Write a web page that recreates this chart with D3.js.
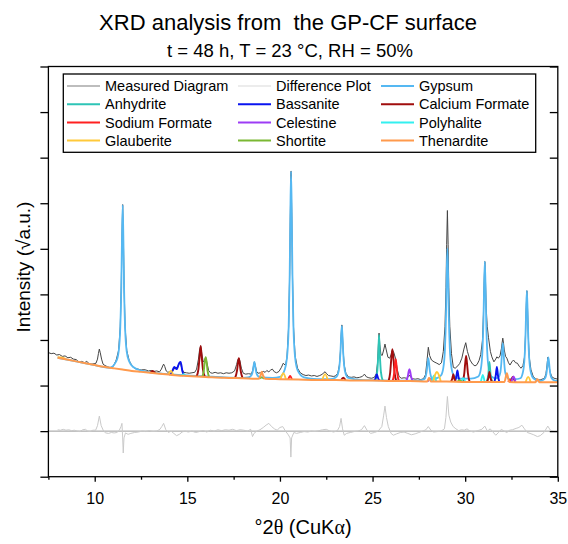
<!DOCTYPE html>
<html>
<head>
<meta charset="utf-8">
<script src="https://cdnjs.cloudflare.com/ajax/libs/d3/7.8.5/d3.min.js"></script>
<style>
  body { margin: 0; background: #fff; }
  svg text { font-family: "Liberation Sans", Arial, sans-serif; fill: #000; }
</style>
</head>
<body>
<div class="svg_container"></div>
<script>
const WIDTH = 568;
const HEIGHT = 544;
const LEFT = 48.4, RIGHT = 557.8, TOP = 66.5, BOTTOM = 476.7;

// ---- data (x = °2θ, y = sqrt intensity, arbitrary units) ----
var xMajorTicks = [10, 15, 20, 25, 30, 35];
var xMinorTicks = [7.5, 12.5, 17.5, 22.5, 27.5, 32.5];
var yTicks = [0, 1, 2, 3, 4, 5, 6, 7, 8, 9];
var diffZero = 1;

var measured = [[7.52,2.72],[7.65,2.70],[7.8,2.71],[7.95,2.67],[8.1,2.68],[8.25,2.64],[8.4,2.65],[8.55,2.61],[8.7,2.62],[8.85,2.58],
  [9.0,2.57],[9.17,2.51],[9.3,2.53],[9.45,2.50],[9.57,2.53],[9.7,2.48],[9.85,2.47],[9.97,2.48],[10.07,2.49],[10.15,2.58],
  [10.2,2.70],[10.25,2.80],[10.3,2.72],[10.37,2.58],[10.45,2.47],[10.55,2.44],[10.7,2.41],[10.85,2.39],[11.0,2.42],[11.16,2.56],
  [11.29,2.77],[11.38,3.29],[11.435,4.19],[11.47,5.19],[11.51,5.97],[11.55,5.19],[11.585,4.19],[11.64,3.29],[11.73,2.77],[11.86,2.55],
  [12.03,2.42],[12.2,2.37],[12.35,2.36],[12.5,2.34],[12.65,2.35],[12.77,2.34],[12.9,2.32],[13.05,2.33],[13.2,2.31],[13.35,2.32],
  [13.5,2.30],[13.6,2.36],[13.67,2.43],[13.72,2.47],[13.78,2.42],[13.86,2.32],[13.95,2.29],[14.1,2.31],[14.21,2.32],[14.34,2.39],
  [14.45,2.40],[14.52,2.44],[14.61,2.51],[14.7,2.38],[14.8,2.29],[14.95,2.28],[15.1,2.27],[15.25,2.28],[15.4,2.29],[15.5,2.36],
  [15.6,2.58],[15.66,2.78],[15.72,2.87],[15.78,2.70],[15.86,2.52],[15.92,2.55],[15.99,2.62],[16.06,2.50],[16.15,2.33],[16.25,2.28],
  [16.35,2.27],[16.5,2.29],[16.65,2.27],[16.8,2.28],[16.95,2.26],[17.1,2.28],[17.25,2.27],[17.4,2.28],[17.55,2.32],[17.66,2.46],
  [17.72,2.56],[17.78,2.60],[17.84,2.54],[17.92,2.38],[18.02,2.27],[18.15,2.25],[18.3,2.26],[18.45,2.25],[18.53,2.33],[18.58,2.45],
  [18.62,2.52],[18.67,2.44],[18.74,2.31],[18.82,2.27],[18.95,2.28],[19.1,2.31],[19.2,2.29],[19.29,2.33],[19.4,2.30],[19.5,2.34],
  [19.59,2.36],[19.7,2.30],[19.82,2.28],[19.95,2.31],[20.08,2.40],[20.18,2.49],[20.3,2.44],[20.38,2.62],[20.47,3.30],[20.525,4.45],
  [20.56,5.72],[20.60,6.70],[20.64,5.72],[20.675,4.45],[20.73,3.30],[20.82,2.65],[20.95,2.38],[21.1,2.28],[21.25,2.24],[21.4,2.22],
  [21.55,2.23],[21.7,2.21],[21.85,2.22],[22.0,2.20],[22.15,2.22],[22.3,2.25],[22.38,2.29],[22.44,2.30],[22.52,2.26],[22.62,2.22],
  [22.75,2.21],[22.88,2.20],[23.0,2.21],[23.12,2.27],[23.21,2.45],[23.265,2.75],[23.30,3.07],[23.34,3.33],[23.38,3.07],[23.415,2.75],
  [23.47,2.45],[23.56,2.27],[23.7,2.19],[23.85,2.18],[24.0,2.19],[24.15,2.17],[24.3,2.18],[24.45,2.20],[24.56,2.25],[24.67,2.19],
  [24.8,2.17],[24.95,2.16],[25.1,2.18],[25.2,2.26],[25.27,2.50],[25.31,2.85],[25.35,3.15],[25.39,2.90],[25.45,2.68],[25.52,2.66],
  [25.6,2.78],[25.67,2.91],[25.74,2.78],[25.83,2.62],[25.93,2.60],[26.0,2.68],[26.07,2.78],[26.15,2.72],[26.25,2.58],[26.33,2.36],
  [26.43,2.20],[26.55,2.16],[26.7,2.17],[26.85,2.16],[26.92,2.19],[26.99,2.23],[27.06,2.18],[27.15,2.15],[27.3,2.14],[27.45,2.15],
  [27.6,2.13],[27.75,2.15],[27.86,2.24],[27.94,2.55],[28.01,2.84],[28.08,2.66],[28.18,2.56],[28.32,2.52],[28.47,2.49],[28.6,2.46],
  [28.72,2.50],[28.82,2.75],[28.91,3.30],[28.965,4.15],[29.0,5.09],[29.04,5.84],[29.08,5.09],[29.115,4.15],[29.17,3.30],[29.26,2.70],
  [29.36,2.40],[29.46,2.38],[29.55,2.41],[29.7,2.48],[29.82,2.60],[29.93,2.80],[30.03,2.94],[30.12,2.75],[30.26,2.56],[30.4,2.47],
  [30.53,2.43],[30.64,2.46],[30.75,2.55],[30.84,2.68],[30.93,2.98],[30.985,3.55],[31.02,4.20],[31.06,4.72],[31.10,4.25],[31.135,3.70],
  [31.19,3.30],[31.26,3.05],[31.36,2.75],[31.44,2.63],[31.55,2.52],[31.65,2.58],[31.71,2.63],[31.79,2.60],[31.88,2.65],[31.96,2.82],
  [31.99,2.93],[32.03,3.04],[32.07,2.93],[32.11,2.78],[32.18,2.64],[32.25,2.60],[32.34,2.50],[32.42,2.45],[32.52,2.52],[32.61,2.56],
  [32.72,2.50],[32.82,2.49],[32.92,2.42],[33.02,2.38],[33.12,2.44],[33.2,2.62],[33.255,3.1],[33.29,3.65],[33.33,4.08],[33.37,3.65],
  [33.405,3.1],[33.46,2.62],[33.55,2.35],[33.68,2.19],[33.8,2.15],[33.95,2.13],[34.04,2.12],[34.15,2.14],[34.28,2.16],[34.36,2.26],
  [34.42,2.45],[34.46,2.62],[34.51,2.48],[34.58,2.30],[34.68,2.19],[34.8,2.16],[34.9,2.15],[35.0,2.14]];

var difference = [[8.0,1.03],[8.15,1.02],[8.3,1.04],[8.45,1.02],[8.6,1.03],[8.75,1.01],[8.9,1.02],[9.05,1.00],[9.2,0.99],[9.35,1.03],
  [9.5,1.04],[9.62,1.00],[9.75,0.99],[9.9,1.02],[10.05,1.02],[10.15,1.12],[10.25,1.33],[10.35,1.12],[10.48,1.00],[10.6,0.96],
  [10.75,0.95],[10.9,0.97],[11.05,0.96],[11.2,0.97],[11.33,1.02],[11.42,1.10],[11.47,1.17],[11.51,0.85],[11.54,0.52],[11.58,0.85],
  [11.66,0.96],[11.8,0.93],[11.95,0.95],[12.15,0.97],[12.35,0.98],[12.55,1.00],[12.75,0.99],[12.95,1.01],[13.15,0.99],[13.35,1.00],
  [13.52,1.04],[13.62,1.10],[13.72,1.17],[13.84,1.03],[13.98,0.97],[14.12,1.00],[14.27,0.95],[14.42,0.90],[14.57,0.93],[14.72,0.98],
  [14.87,1.00],[15.05,0.98],[15.25,1.00],[15.45,0.97],[15.65,0.99],[15.85,1.01],[16.05,0.98],[16.25,1.02],[16.45,1.00],[16.65,1.03],
  [16.85,1.01],[17.05,1.03],[17.25,1.02],[17.45,1.04],[17.65,1.01],[17.85,1.03],[18.05,1.02],[18.25,1.00],[18.42,1.04],[18.52,0.88],
  [18.6,0.95],[18.75,1.00],[18.92,1.03],[19.1,1.08],[19.25,1.13],[19.4,1.17],[19.55,1.10],[19.7,1.05],[19.85,1.02],[20.0,1.08],
  [20.15,1.10],[20.3,1.00],[20.45,0.92],[20.55,0.85],[20.59,0.43],[20.63,0.85],[20.75,0.97],[20.9,0.95],[21.1,0.97],[21.3,0.99],
  [21.5,0.98],[21.7,1.00],[21.9,0.99],[22.1,1.01],[22.3,1.03],[22.5,1.04],[22.7,1.00],[22.9,0.98],[23.1,1.01],[23.22,1.10],
  [23.3,1.28],[23.38,1.05],[23.47,0.91],[23.6,0.95],[23.8,0.97],[24.0,0.99],[24.2,1.00],[24.4,1.03],[24.56,1.12],[24.7,1.02],
  [24.9,0.95],[25.1,0.97],[25.3,1.00],[25.5,1.10],[25.6,1.35],[25.67,1.55],[25.75,1.30],[25.85,1.10],[26.0,0.95],[26.12,0.91],
  [26.3,0.94],[26.5,0.97],[26.7,0.98],[26.9,0.95],[27.1,0.92],[27.3,0.94],[27.5,0.97],[27.7,1.00],[27.88,1.03],[28.01,1.10],
  [28.15,1.02],[28.3,0.98],[28.5,0.99],[28.7,1.00],[28.88,1.05],[28.96,1.30],[29.04,1.76],[29.12,1.35],[29.22,1.20],[29.35,1.10],
  [29.5,1.05],[29.65,1.01],[29.8,1.03],[29.95,1.02],[30.1,1.05],[30.25,1.00],[30.45,0.98],[30.6,1.00],[30.75,1.02],[30.9,1.04],
  [31.06,1.11],[31.2,1.00],[31.35,1.05],[31.5,0.98],[31.65,0.91],[31.8,0.97],[31.95,1.04],[32.1,1.00],[32.25,0.97],[32.4,1.02],
  [32.55,1.03],[32.75,1.06],[32.9,1.08],[33.06,1.13],[33.2,1.05],[33.35,0.97],[33.5,0.95],[33.7,0.92],[33.9,0.88],[34.05,0.90],
  [34.25,0.97],[34.46,1.11],[34.6,1.02],[34.8,0.99],[35.0,1.00]];

var gypsum = [[8.0,2.61],[9.0,2.53],[10.0,2.45],[10.8,2.39],[11.16,2.53],[11.29,2.74],[11.38,3.27],[11.435,4.17],[11.47,5.17],[11.51,5.96],
  [11.55,5.17],[11.585,4.17],[11.64,3.27],[11.73,2.74],[11.86,2.53],[12.1,2.40],[12.6,2.32],[13,2.29],[14,2.25],[15,2.22],
  [16,2.20],[17,2.18],[18.0,2.17],[18.27,2.18],[18.4,2.20],[18.49,2.25],[18.545,2.34],[18.58,2.44],[18.62,2.52],[18.66,2.44],
  [18.695,2.34],[18.75,2.25],[18.84,2.20],[19.0,2.18],[19.6,2.17],[20.0,2.19],[20.25,2.34],[20.38,2.61],[20.47,3.28],[20.525,4.42],
  [20.56,5.70],[20.60,6.70],[20.64,5.70],[20.675,4.42],[20.73,3.28],[20.82,2.61],[20.95,2.34],[21.3,2.18],[22,2.14],[22.7,2.14],
  [22.99,2.17],[23.12,2.24],[23.21,2.42],[23.265,2.72],[23.30,3.05],[23.34,3.31],[23.38,3.05],[23.415,2.72],[23.47,2.42],[23.56,2.24],
  [23.69,2.17],[24.5,2.12],[26,2.11],[27.5,2.11],[27.79,2.14],[27.88,2.22],[27.935,2.35],[27.97,2.49],[28.01,2.60],[28.05,2.49],
  [28.085,2.35],[28.14,2.22],[28.23,2.15],[28.45,2.16],[28.69,2.22],[28.82,2.39],[28.91,2.82],[28.965,3.55],[29.0,4.37],[29.04,5.01],
  [29.08,4.37],[29.115,3.55],[29.17,2.82],[29.26,2.39],[29.39,2.22],[29.7,2.15],[30.3,2.15],[30.71,2.20],[30.84,2.35],[30.93,2.74],
  [30.985,3.40],[31.02,4.14],[31.06,4.72],[31.10,4.14],[31.135,3.40],[31.19,2.74],[31.28,2.35],[31.41,2.20],[31.68,2.16],[31.81,2.19],
  [31.9,2.29],[31.955,2.51],[31.99,2.74],[32.03,2.93],[32.07,2.74],[32.105,2.51],[32.16,2.29],[32.25,2.19],[32.38,2.14],[32.7,2.14],
  [32.98,2.16],[33.11,2.28],[33.2,2.57],[33.255,3.08],[33.29,3.64],[33.33,4.08],[33.37,3.64],[33.405,3.08],[33.46,2.57],[33.55,2.28],
  [33.68,2.16],[34.0,2.10],[34.14,2.11],[34.27,2.14],[34.36,2.21],[34.415,2.35],[34.45,2.50],[34.49,2.62],[34.53,2.50],[34.565,2.35],
  [34.62,2.21],[34.71,2.14],[34.84,2.11],[35,2.10]];

// minor phases: each one is a list of separate peaks, every peak a list of points
var anhydrite = [
  [[25.15,2.11],[25.25,2.30],[25.31,2.70],[25.35,3.11],[25.39,2.70],[25.45,2.30],[25.55,2.11]],
  [[31.17,2.09],[31.25,2.24],[31.31,2.52],[31.37,2.24],[31.45,2.09]]];
var bassanite = [
  [[14.02,2.24],[14.15,2.28],[14.3,2.41],[14.42,2.36],[14.57,2.50],[14.64,2.52],[14.73,2.32],[14.83,2.22]],
  [[25.1,2.11],[25.17,2.17],[25.23,2.25],[25.29,2.17],[25.36,2.11]],
  [[29.45,2.09],[29.52,2.19],[29.58,2.33],[29.64,2.19],[29.71,2.09]],
  [[31.58,2.08],[31.65,2.22],[31.71,2.41],[31.77,2.22],[31.84,2.08]]];
var calciumFormate = [
  [[13.0,2.28],[13.13,2.32],[13.26,2.27]],
  [[15.5,2.20],[15.6,2.36],[15.66,2.62],[15.72,2.87],[15.78,2.62],[15.84,2.36],[15.94,2.20]],
  [[17.58,2.17],[17.68,2.32],[17.73,2.48],[17.78,2.60],[17.83,2.48],[17.88,2.32],[17.98,2.17]],
  [[23.3,2.12],[23.42,2.17],[23.54,2.12]],
  [[25.86,2.10],[25.95,2.28],[26.01,2.58],[26.07,2.80],[26.13,2.58],[26.19,2.28],[26.28,2.10]],
  [[29.24,2.09],[29.31,2.16],[29.36,2.25],[29.41,2.16],[29.48,2.09]],
  [[29.86,2.08],[29.95,2.26],[30.0,2.48],[30.05,2.65],[30.1,2.48],[30.15,2.26],[30.24,2.08]],
  [[31.18,2.08],[31.26,2.18],[31.31,2.30],[31.36,2.18],[31.44,2.08]],
  [[32.45,2.08],[32.57,2.19],[32.69,2.08]]];
var sodiumFormate = [
  [[20.45,2.14],[20.55,2.21],[20.64,2.14]],
  [[26.08,2.10],[26.17,2.28],[26.21,2.45],[26.25,2.58],[26.29,2.45],[26.33,2.28],[26.42,2.10]],
  [[32.32,2.08],[32.42,2.13],[32.52,2.08]]];
var celestine = [
  [[26.82,2.10],[26.9,2.20],[26.95,2.31],[26.99,2.36],[27.03,2.31],[27.08,2.20],[27.16,2.10]],
  [[27.98,2.09],[28.1,2.15],[28.22,2.09]],
  [[32.5,2.08],[32.61,2.20],[32.72,2.08]]];
var polyhalite = [
  [[14.7,2.21],[14.8,2.25],[14.9,2.21]],
  [[28.2,2.09],[28.32,2.22],[28.44,2.09]],
  [[29.8,2.08],[29.9,2.16],[30.0,2.08]],
  [[30.85,2.08],[30.95,2.23],[31.05,2.08]]];
var glauberite = [
  [[8.0,2.62],[8.25,2.61],[8.45,2.58]],
  [[13.98,2.24],[14.12,2.32],[14.24,2.23]],
  [[20.03,2.14],[20.18,2.27],[20.32,2.14]],
  [[22.28,2.12],[22.44,2.25],[22.58,2.12]],
  [[28.28,2.09],[28.38,2.24],[28.47,2.30],[28.57,2.24],[28.68,2.09]],
  [[33.26,2.07],[33.4,2.19],[33.54,2.07]]];
var shortite = [
  [[15.8,2.19],[15.89,2.33],[15.94,2.52],[15.99,2.62],[16.04,2.52],[16.09,2.33],[16.18,2.19]],
  [[18.88,2.15],[19.02,2.18],[19.14,2.15]],
  [[29.58,2.08],[29.7,2.12],[29.82,2.08]]];
// thenardite is drawn over the whole range, so it carries the background line
var thenardite = [[8.0,2.61],[8.5,2.57],[9,2.53],[9.5,2.49],[10,2.45],[10.5,2.41],[11,2.38],[11.5,2.35],[12,2.32],[12.5,2.30],
  [13,2.28],[13.5,2.26],[14,2.24],[14.5,2.22],[15,2.21],[15.5,2.20],[16,2.19],[17,2.17],[18,2.16],[18.85,2.15],[18.95,2.22],
  [19.02,2.30],[19.09,2.22],[19.2,2.15],[20,2.14],[21,2.13],[22,2.12],[23,2.12],[24,2.11],[25,2.11],[26,2.10],[27,2.10],
  [27.95,2.09],[28.05,2.17],[28.15,2.09],[29,2.09],[30,2.08],[31,2.08],[32.12,2.08],[32.25,2.27],[32.38,2.08],[33,2.07],
  [33.78,2.07],[33.9,2.14],[34.02,2.07],[35,2.07]];

var legendNames = ["Measured Diagram", "Difference Plot", "Gypsum", "Anhydrite", "Bassanite", "Calcium Formate",
  "Sodium Formate", "Celestine", "Polyhalite", "Glauberite", "Shortite", "Thenardite"];
var legendColors = ["#bdbdbd", "#ececec", "#55b8f2", "#2ec4b6", "#0a14f0", "#a00d0d",
  "#ff2020", "#9d3cf5", "#33f0f0", "#ffc93a", "#7ab833", "#ff9a4d"];

var translate = function (x, y) {
  return "translate(" + x + "," + y + ")";
};

var _xScale = d3.scaleLinear().domain([7.5, 35]).range([LEFT, RIGHT]);
var _yScale = d3.scaleLinear().domain([0, 9]).range([BOTTOM, TOP]);

var line = d3.line()
  .x(function (d) { return _xScale(d[0]); })
  .y(function (d) { return _yScale(d[1]); });
var smooth = d3.line()
  .x(function (d) { return _xScale(d[0]); })
  .y(function (d) { return _yScale(d[1]); })
  .curve(d3.curveMonotoneX);

var svg = d3.select('.svg_container').append('svg')
  .attr('width', WIDTH)
  .attr('height', HEIGHT);

svg.append('defs').append('clipPath').attr('id', 'plotClip')
  .append('rect')
  .attr('x', LEFT).attr('y', TOP)
  .attr('width', RIGHT - LEFT).attr('height', BOTTOM - TOP);

// titles
svg.append('text').attr('x', 288).attr('y', 30)
  .attr('text-anchor', 'middle').style('font-size', '22px')
  .text('XRD analysis from\u00a0 the GP-CF surface');
svg.append('text').attr('x', 290).attr('y', 57)
  .attr('text-anchor', 'middle').style('font-size', '18.5px')
  .text('t = 48 h, T = 23 °C, RH = 50%');

var plot = svg.append('g').attr('clip-path', 'url(#plotClip)');

// difference plot and its zero line
plot.append('line')
  .attr('x1', LEFT).attr('x2', RIGHT)
  .attr('y1', _yScale(diffZero)).attr('y2', _yScale(diffZero))
  .attr('stroke', '#9a9a9a').attr('stroke-width', 1);
plot.append('path').attr('d', line(difference))
  .attr('fill', 'none').attr('stroke', '#c9c9c9').attr('stroke-width', 1);

// measured pattern
plot.append('path').attr('d', line(measured))
  .attr('fill', 'none').attr('stroke', '#444').attr('stroke-width', 1);

// gypsum
plot.append('path').attr('d', smooth(gypsum))
  .attr('fill', 'none').attr('stroke', legendColors[2]).attr('stroke-width', 1.8);

var drawPeaks = function (peaks, color) {
  plot.append('g').selectAll('path')
    .data(peaks).enter().append('path')
    .attr('d', function (d) { return smooth(d); })
    .attr('fill', 'none')
    .attr('stroke', color)
    .attr('stroke-width', 1.9);
};

drawPeaks(anhydrite, legendColors[3]);
drawPeaks(bassanite, legendColors[4]);
drawPeaks(calciumFormate, legendColors[5]);
drawPeaks(sodiumFormate, legendColors[6]);
drawPeaks(celestine, legendColors[7]);
drawPeaks(polyhalite, legendColors[8]);
drawPeaks(glauberite, legendColors[9]);
drawPeaks(shortite, legendColors[10]);

plot.append('path').attr('d', smooth(thenardite))
  .attr('fill', 'none').attr('stroke', legendColors[11]).attr('stroke-width', 2);

// axes
var xAxis = d3.axisBottom(_xScale).tickValues(xMajorTicks).tickSize(5).tickPadding(11);
var xAxisMinor = d3.axisBottom(_xScale).tickValues(xMinorTicks).tickSize(3).tickFormat('');
var yAxisLeft = d3.axisLeft(_yScale).tickValues(yTicks).tickSize(8).tickFormat('');
var yAxisRight = d3.axisRight(_yScale).tickValues(yTicks).tickSize(-8).tickFormat('');

var gx = svg.append('g').attr('transform', translate(0, BOTTOM)).call(xAxis);
gx.selectAll('text').style('font-size', '16px').attr('fill', '#000');
svg.append('g').attr('transform', translate(0, BOTTOM)).call(xAxisMinor);
svg.append('g').attr('transform', translate(LEFT, 0)).call(yAxisLeft);
svg.append('g').attr('transform', translate(RIGHT, 0)).call(yAxisRight);
svg.selectAll('.domain').remove();
svg.selectAll('.tick line').attr('stroke', '#000').attr('stroke-width', 1.3);

svg.append('rect')
  .attr('x', LEFT).attr('y', TOP)
  .attr('width', RIGHT - LEFT).attr('height', BOTTOM - TOP)
  .attr('fill', 'none').attr('stroke', '#000').attr('stroke-width', 1.3);

// axis titles
var xTitle = svg.append('text').attr('x', (LEFT + RIGHT) / 2).attr('y', 534)
  .attr('text-anchor', 'middle').style('font-size', '20px');
xTitle.append('tspan').text('°2');
xTitle.append('tspan').style('font-family', '"Liberation Serif", serif').text('θ');
xTitle.append('tspan').text(' (CuK');
xTitle.append('tspan').style('font-family', '"Liberation Serif", serif').text('α');
xTitle.append('tspan').text(')');
svg.append('text')
  .attr('transform', translate(30, 267) + ' rotate(-90)')
  .attr('text-anchor', 'middle').style('font-size', '19px')
  .text('Intensity (√a.u.)');

// legend
var legend = svg.append('g');
legend.append('rect')
  .attr('x', 63.3).attr('y', 74)
  .attr('width', 472.4).attr('height', 78.3)
  .attr('fill', '#fff').attr('stroke', '#000').attr('stroke-width', 1.3);
var colX = [67, 238, 381];
var items = legend.selectAll('.item')
  .data(legendNames).enter().append('g')
  .attr('class', 'item')
  .attr('transform', function (d, i) { return translate(colX[i % 3], 86 + Math.floor(i / 3) * 18.2); });
items.append('line')
  .attr('x1', 0).attr('x2', 33).attr('y1', 0).attr('y2', 0)
  .attr('stroke', function (d, i) { return legendColors[i]; })
  .attr('stroke-width', 2);
items.append('text')
  .attr('x', 38).attr('y', 5.2)
  .style('font-size', '14.5px')
  .text(function (d) { return d; });
</script>
</body>
</html>
